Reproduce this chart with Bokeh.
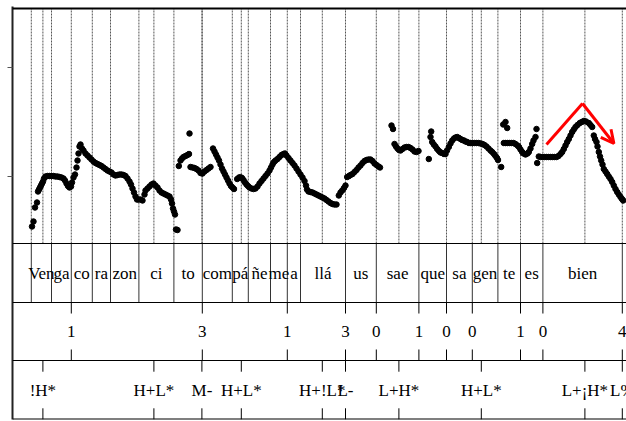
from bokeh.plotting import figure
from bokeh.models import Range1d, Span, FixedTicker, Arrow, OpenHead, CustomJSTickFormatter
from bokeh.core.properties import value
from bokeh.embed import file_html
from bokeh.resources import INLINE

# ---------------- data ----------------
# pitch track: time (ms), f0 (Hz)
f0_time = [
    97.5, 105, 112.5, 122.5, 127.5, 132.5, 137.5, 142.5, 147.5, 152.5, 157.5, 165, 175, 185, 195, 205, 215, 225, 235, 245,
    255, 262.5, 270, 277.5, 285, 292.5, 297.5, 305, 312.5, 320, 325, 330, 335, 340, 347.5, 355, 365, 375, 385, 395,
    405, 415, 425, 435, 445, 455, 465, 475, 485, 495, 505, 515, 525, 535, 545, 555, 565, 575, 585, 592.5,
    600, 607.5, 615, 622.5, 630, 640, 650, 660, 665, 675, 685, 695, 705, 715, 725, 735, 745, 755, 765, 775,
    785, 792.5, 797.5, 802.5, 807.5, 812.5, 817.5, 825,
    831.5, 840, 847.5, 855, 865, 875, 882.5, 885, 890, 900, 910, 920, 930, 940, 950, 960, 970, 980, 990,
    1002.5, 1010, 1017.5, 1025, 1032.5, 1040, 1047.5, 1055, 1062.5, 1070, 1077.5, 1085, 1092.5, 1100, 1107.5,
    1123.5, 1132.5, 1140, 1147.5, 1155, 1162.5, 1170, 1177.5, 1185, 1195, 1205, 1215, 1225, 1235, 1245, 1255,
    1265, 1275, 1285, 1292.5, 1300, 1307.5, 1315, 1325, 1335, 1345, 1355, 1362.5, 1370, 1380, 1390, 1400,
    1410, 1420, 1430, 1440, 1450, 1460, 1467.5, 1472.5, 1480, 1490, 1500, 1510, 1520, 1530, 1540, 1550,
    1560, 1570, 1580, 1590, 1600, 1610, 1620,
    1631.5, 1640, 1648.5, 1657.5, 1665, 1673.5, 1682.5, 1690, 1700, 1710, 1720, 1730, 1740, 1750, 1760,
    1770, 1780, 1790, 1800, 1810, 1820, 1830, 1837.5,
    1895, 1902.5, 1910, 1917.5, 1925, 1932.5, 1940, 1950, 1960, 1970, 1980, 1990, 2000, 2010, 2020, 2030,
    2081.5, 2090, 2093.5, 2098.5, 2106.5, 2115, 2123.5, 2132.5, 2140, 2148.5, 2157.5, 2165, 2172.5, 2181.5,
    2190, 2198.5, 2207.5, 2215, 2223.5, 2232.5, 2240, 2248.5, 2257.5, 2265, 2273.5, 2282.5, 2290, 2300,
    2310, 2320, 2330, 2340, 2350, 2360, 2370, 2380, 2390, 2398.5, 2407.5, 2415, 2422.5, 2427.5, 2443.5,
    2453.5, 2465, 2473.5, 2456.5, 2465, 2475, 2485, 2495, 2505, 2515, 2525, 2532.5, 2540, 2548.5, 2555,
    2565, 2575, 2581.5, 2590, 2598.5, 2605, 2615, 2620,
    2623.5, 2631.5, 2640, 2650, 2660, 2670, 2680, 2690, 2700, 2710, 2720, 2730, 2740, 2748.5, 2756.5,
    2765, 2773.5, 2781.5, 2790, 2798.5, 2806.5, 2815, 2825, 2836.5, 2846.5, 2856.5, 2867.5, 2881.5, 2890,
    2898.5, 2906.5, 2912.5, 2920, 2925, 2931.5, 2937.5, 2943.5, 2950, 2956.5, 2965, 2973.5, 2981.5, 2990,
    2998.5, 3006.5, 3015, 3023.5, 3031.5, 3040, 3047.5, 3053.5,
]
f0_hz = [
    74, 79, 93, 98, 109, 111, 113, 115, 117, 119, 122, 124, 124.5, 124.5, 124.5, 124.5, 124, 124, 123.5, 123,
    122, 120, 117, 114.5, 113, 114, 118, 123, 126, 133, 140, 147, 154, 156, 152, 150, 147, 145, 143, 141,
    139, 137.5, 136.5, 135.5, 134.5, 133, 131.5, 130, 129, 128, 126, 125, 125.5, 126, 126, 125.5, 124.5, 122, 119, 116,
    112, 108, 104, 101, 101, 101, 100, 106, 110, 112, 114, 116, 117, 115, 113, 110, 108, 107, 106, 105,
    104, 101, 97, 92, 89, 86, 71, 70.5,
    134.5, 140, 142, 143.5, 144.5, 145.5, 146.5, 167, 133.5, 133, 132.5, 131.5, 130, 127.5, 127, 129, 130.5, 132, 133.5,
    152, 149, 146, 143, 140, 136, 132, 129, 126, 123, 120, 117, 114.5, 113, 111.5,
    121.5, 123, 123.3, 122.5, 120.5, 118, 116, 114.5, 113, 112, 111.5, 112, 114, 117, 119.5, 122,
    124.5, 127, 130, 133, 136, 138.5, 140, 141.5, 143.5, 145.5, 146.5, 147, 145, 142.5, 140, 137.5,
    135, 132, 129, 126, 123, 119.5, 115, 111, 109, 108.5, 108, 107, 106, 105, 104, 103,
    102, 100.5, 99, 97.5, 96.5, 96, 96,
    105, 108, 110, 112.5, 115, 123.5, 124.5, 125.5, 126.5, 128.5, 130.5, 133, 135, 137.5, 139.5,
    140.5, 141, 141, 139.5, 137, 135.5, 134, 133,
    175, 171.5, 156.5, 154, 152, 150.5, 150, 151.5, 153, 153.5, 153.5, 152.5, 151, 149, 148.5, 149.5,
    141.5, 163.5, 169, 158.5, 156, 154, 151.5, 149.5, 148, 147.5, 146.5, 146.5, 150, 153.5,
    157, 160, 162, 163, 163.5, 162.5, 161.5, 160.5, 160, 159, 158.5, 157.5, 157.5, 157.5,
    157.5, 157.5, 157.5, 157, 156.5, 155.5, 154, 152, 150, 148.5, 146.5, 144.5, 142.5, 140.5, 133.5,
    176, 178.5, 172.5, 157.5, 157.5, 157.5, 157.5, 157.5, 157.5, 156.5, 155, 153.5, 151, 148.5, 147,
    146, 147, 148.5, 152, 156.5, 160, 163.5, 171.5,
    137.5, 144, 143.5, 143.5, 143.5, 143.5, 143.5, 143.5, 143.5, 143.5, 143.5, 144.5, 146.5, 148.5, 151.5,
    155, 158.5, 161.5, 165, 168.5, 171, 173.5, 175.5, 177.5, 178.5, 179.5, 179, 177.5, 175.5,
    173.5, 165, 161.5, 158.5, 154, 148.5, 144, 140, 136, 131.5, 129, 126.5, 124, 121.5,
    118.5, 115, 111.5, 108.5, 106, 103.5, 101.5, 100,
]

# syllable tier: boundaries (ms) and labels of the intervals between them
syl_bounds = [0, 94, 195, 294, 399, 490, 632, 807, 949, 1099, 1179, 1290, 1374, 1440,
              1665, 1819, 2032, 2170, 2299, 2427, 2540, 2652, 3049]
syl_labels = ["", "Ven", "ga", "co", "ra", "zon", "ci", "to", "com", "pá", "ñe", "me", "a",
              "llá", "us", "sae", "que", "sa", "gen", "te", "es", "bien"]

# break indices tier
brk_time = [294, 949, 1374, 1665, 1819, 2032, 2170, 2299, 2540, 2652, 3049]
brk_labels = ["1", "3", "1", "3", "0", "1", "0", "0", "1", "0", "4"]

# tones tier
tone_time = [152, 707, 947, 1144, 1549, 1665, 1932, 2344, 2862, 3049]
tone_labels = ["!H*", "H+L*", "M-", "H+L*", "H+!L*", "L-", "L+H*", "H+L*", "L+¡H*", "L%"]

# red rise-fall annotation (ms, Hz)
arrow_time = [2670, 2850, 3007]
arrow_hz = [156, 197, 157]

# pitch axis ticks (Hz)
pitch_ticks = [124, 233]

# ---------------- layout ----------------
W, H = 626, 421
TOP_PAD = 2                 # px of frame above the pitch panel's top border
FRAME_H = 413
PITCH_LO, PITCH_HI = 57, 292
PITCH_TOP = TOP_PAD         # px from frame top
PITCH_BOTTOM = TOP_PAD + 235
SYL_BOTTOM = TOP_PAD + 294
BRK_BOTTOM = TOP_PAD + 352
TONE_BOTTOM = TOP_PAD + 411
T_MAX = 3070

scale = (PITCH_HI - PITCH_LO) / (PITCH_BOTTOM - PITCH_TOP)
y_start = PITCH_LO - (FRAME_H - PITCH_BOTTOM) * scale
y_end = PITCH_HI + PITCH_TOP * scale


def band_range(top_px, bot_px):
    unit = bot_px - top_px
    return Range1d(-(FRAME_H - bot_px) / unit, 1 + top_px / unit)


FONT = value("Liberation Serif")
FS = "17px"

p = figure(width=W, height=H, output_backend="svg", toolbar_location=None,
           x_range=Range1d(0, T_MAX), y_range=Range1d(y_start, y_end),
           min_border_left=12, min_border_right=0, min_border_top=6, min_border_bottom=2)
p.extra_y_ranges = {
    "syl": band_range(PITCH_BOTTOM, SYL_BOTTOM),
    "brk": band_range(SYL_BOTTOM, BRK_BOTTOM),
    "tone": band_range(BRK_BOTTOM, TONE_BOTTOM),
}
p.outline_line_color = None
p.background_fill_color = "white"
p.border_fill_color = "white"
p.xgrid.visible = False
p.ygrid.visible = False
p.xaxis.visible = False

ax = p.yaxis[0]
ax.ticker = FixedTicker(ticks=pitch_ticks)
ax.formatter = CustomJSTickFormatter(code="return ''")
ax.major_label_standoff = 0
ax.major_tick_out = 5
ax.major_tick_in = 0
ax.minor_tick_out = 0
ax.minor_tick_in = 0
ax.axis_line_color = "#222222"
ax.axis_line_width = 2
ax.major_tick_line_color = "#555555"

# pitch-panel dashed guide lines (syllable boundaries + tone targets)
guide_t = sorted(set(syl_bounds[1:]) | set(tone_time))
p.segment(x0=guide_t, y0=PITCH_LO, x1=guide_t, y1=PITCH_HI,
          line_color="#555555", line_width=1, line_dash="2 1")

# horizontal borders
p.add_layout(Span(location=PITCH_HI, dimension="width", line_color="black", line_width=2))
p.add_layout(Span(location=PITCH_LO, dimension="width", line_color="black", line_width=1))
p.add_layout(Span(location=0, dimension="width", line_color="black", line_width=1, y_range_name="syl"))
p.add_layout(Span(location=0, dimension="width", line_color="black", line_width=1, y_range_name="brk"))
p.add_layout(Span(location=0, dimension="width", line_color="black", line_width=2, y_range_name="tone"))

# pitch dots
p.scatter(f0_time, f0_hz, size=5.5, color="black")

# red arrow
p.line(arrow_time[:2], arrow_hz[:2], line_color="red", line_width=3)
p.add_layout(Arrow(end=OpenHead(size=13, line_color="red", line_width=3),
                   x_start=arrow_time[1], y_start=arrow_hz[1],
                   x_end=arrow_time[2], y_end=arrow_hz[2],
                   line_color="red", line_width=3))

# syllable tier
p.segment(x0=syl_bounds[1:], y0=0, x1=syl_bounds[1:], y1=1, y_range_name="syl",
          line_color="#333333", line_width=1)
syl_mid = [(a + b) / 2 for a, b in zip(syl_bounds[:-1], syl_bounds[1:])]
p.text(x=syl_mid, y=0.5, text=syl_labels, y_range_name="syl",
       text_align="center", text_baseline="middle", text_font=FONT,
       text_font_size=FS, text_color="black")

# break-index and tone tiers
TICK = 0.19
for name, times, labels in (("brk", brk_time, brk_labels), ("tone", tone_time, tone_labels)):
    p.segment(x0=times, y0=1 - TICK, x1=times, y1=1, y_range_name=name,
              line_color="black", line_width=1)
    p.segment(x0=times, y0=0, x1=times, y1=TICK, y_range_name=name,
              line_color="black", line_width=1)
    p.text(x=times, y=0.5, text=labels, y_range_name=name,
           text_align="center", text_baseline="middle", text_font=FONT,
           text_font_size=FS, text_color="black")

open("out.html", "w").write(file_html(p, INLINE))
